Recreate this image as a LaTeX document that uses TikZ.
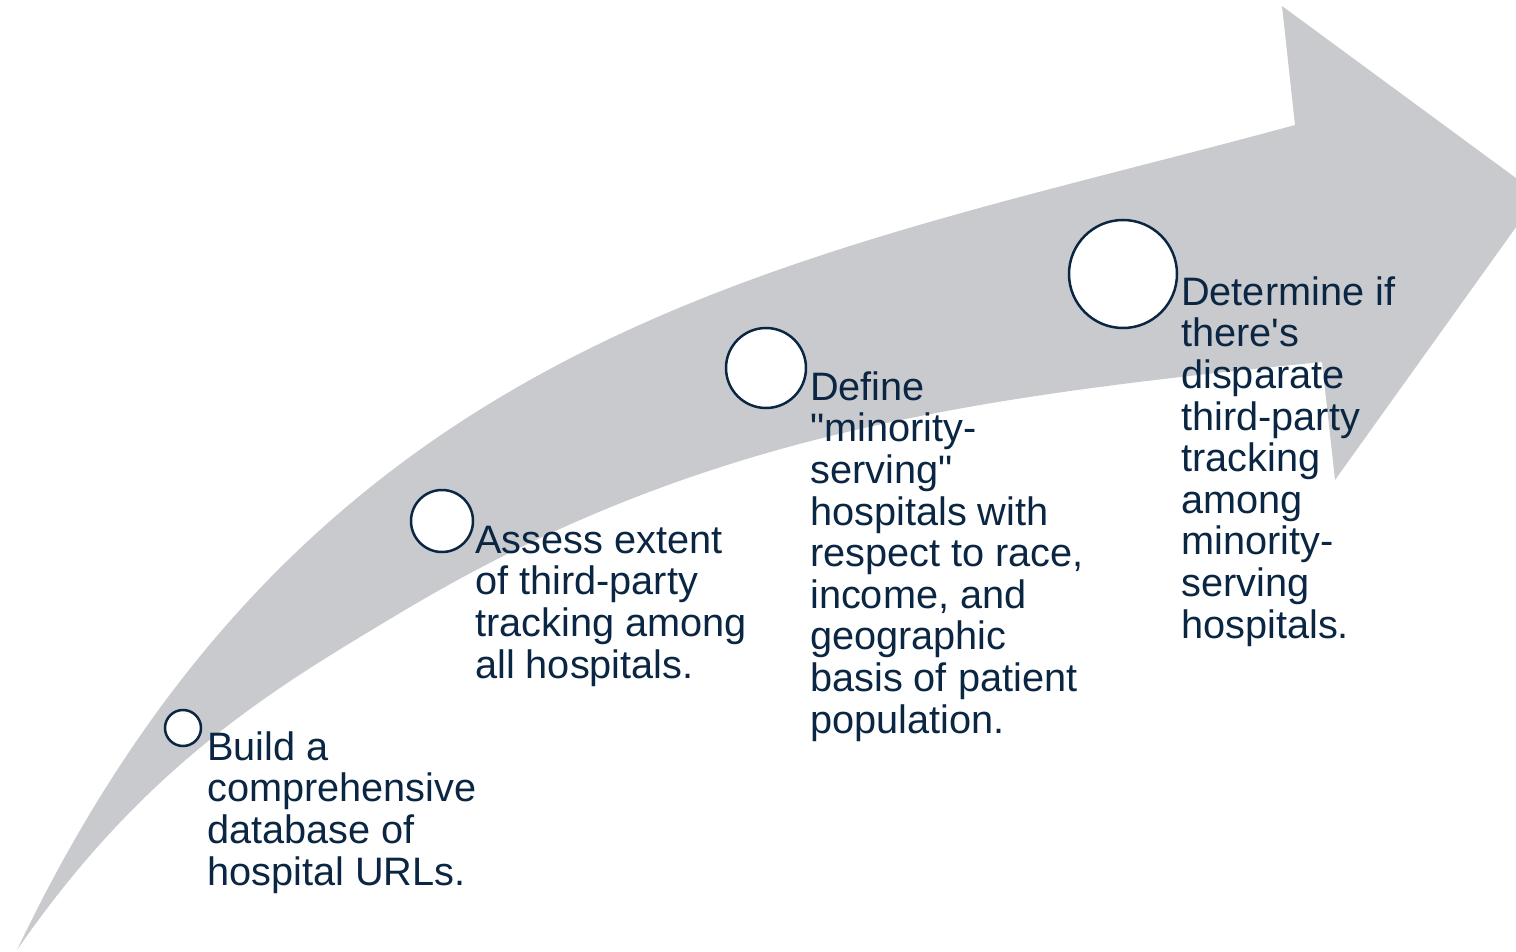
\documentclass[tikz,border=0pt]{standalone}
\usepackage{fontspec}
\setmainfont{Liberation Sans}
\usetikzlibrary{positioning}
\definecolor{navy}{RGB}{10,38,67}
\definecolor{arrowgray}{RGB}{201,202,206}

\begin{document}
\begin{tikzpicture}[x=1pt, y=-1pt,
  milestone/.style={circle, draw=navy, fill=white, line width=2.5pt, inner sep=0pt},
  steptext/.style={anchor=base west, align=left, inner sep=0pt, text=navy,
    font=\fontsize{39.7}{41.6}\selectfont}]
\useasboundingbox (0,0) rectangle (1516,952);
\clip (0,0) rectangle (1516,952);
% curved arrow
\coordinate (tail) at (17,950);
\fill[arrowgray] (tail) .. controls (317,320) and (800,260) .. (1295,125)
  -- (1282,6) -- (1539,195) -- (1335,480) -- (1322,362)
  .. controls (972,397) and (700,433) .. (400,613)
  .. controls (280,685) and (147,761.5) .. (tail) -- cycle;
% milestones
\node[milestone, minimum size=36pt] (c1) at (183,728) {};
\node[milestone, minimum size=62pt] (c2) at (442,521) {};
\node[milestone, minimum size=80pt] (c3) at (766,368) {};
\node[milestone, minimum size=108pt] (c4) at (1123,274) {};
% labels (placed at the baseline of their last line)
\node[steptext] (t1) at (207,885) {Build a\\comprehensive\\database of\\hospital URLs.};
\node[steptext] (t2) at (475,678) {Assess extent\\of third-party\\tracking among\\all hospitals.};
\node[steptext] (t3) at (810,733) {Define\\\textquotedbl minority-\\serving\textquotedbl\\hospitals with\\respect to race,\\income, and\\geographic\\basis of patient\\population.};
\node[steptext] (t4) at (1181,638) {Determine if\\there\textquotesingle s\\disparate\\third-party\\tracking\\among\\minority-\\serving\\hospitals.};
\end{tikzpicture}
\end{document}
